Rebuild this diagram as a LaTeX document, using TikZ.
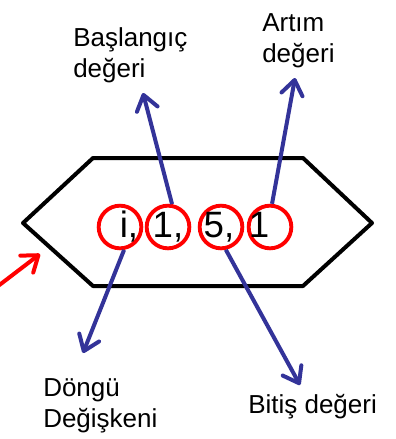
\documentclass[tikz,border=0pt]{standalone}
\usepackage{fontspec}
\setmainfont{Liberation Sans}
\usetikzlibrary{arrows.meta}

\definecolor{okmavi}{RGB}{51,51,153}

\tikzset{
    etiket/.style = {font = {\fontsize{19.5}{23.25}\selectfont}, align = left, inner sep = 0pt, anchor = north west},
    deger/.style = {font = {\fontsize{27.5}{30}\selectfont}, inner sep = 0pt, anchor = base},
    halka/.style = {draw = red, line width = 2.9pt, circle, minimum size = 32pt, inner sep = 0pt},
    ok/.style = {draw = okmavi, line width = 3pt, -{Straight Barb[length = 11pt, width = 16pt, round]}},
}

\begin{document}
\begin{tikzpicture}[x = 0.75pt, y = -0.75pt]
        \useasboundingbox (0, 0) rectangle (396, 439);
        \clip (0, 0) rectangle (396, 439);

        % altigen kutu
        \draw[line width = 3pt, line join = round] (23, 223) -- (93, 158) -- (303, 158) -- (372, 223)
            -- (303, 286) -- (93, 286) -- cycle;

        % halkalar
        \node[halka] (h1) at (120, 227) {};
        \node[halka] (h2) at (168, 227) {};
        \node[halka] (h3) at (221, 227) {};
        \node[halka] (h4) at (270, 227) {};

        % for parametreleri
        \node[deger] (d1) at (129, 237) {i,};
        \node[deger] (d2) at (168, 237) {1,};
        \node[deger] (d3) at (219, 237) {5,};
        \node[deger] (d4) at (259, 237) {1};

        % aciklamalar
        \node[etiket] (baslangic) at (73, 27) {Başlangıç\\değeri};
        \node[etiket] (artim) at (262, 13) {Artım\\değeri};
        \node[etiket] (degisken) at (43, 378) {Döngü\\Değişkeni};
        \node[etiket] (bitis) at (248, 394) {Bitiş değeri};

        \coordinate (uc1) at (143, 93);
        \coordinate (uc2) at (295, 78);
        \coordinate (uc3) at (83, 353);
        \coordinate (uc4) at (300, 385);

        \draw[ok] (h2.80) -- (uc1);
        \draw[ok] (h4.85) -- (uc2);
        \draw[ok] (h1.-80) -- (uc3);
        \draw[ok] (h3.-78) -- (uc4);

        % giris oku
        \coordinate (giris) at (-15, 296);
        \coordinate (kenar) at (40, 254);
        \draw[red, line width = 3pt, -{Straight Barb[length = 11pt, width = 16pt, round]}] (giris) -- (kenar);
    \end{tikzpicture}
\end{document}
